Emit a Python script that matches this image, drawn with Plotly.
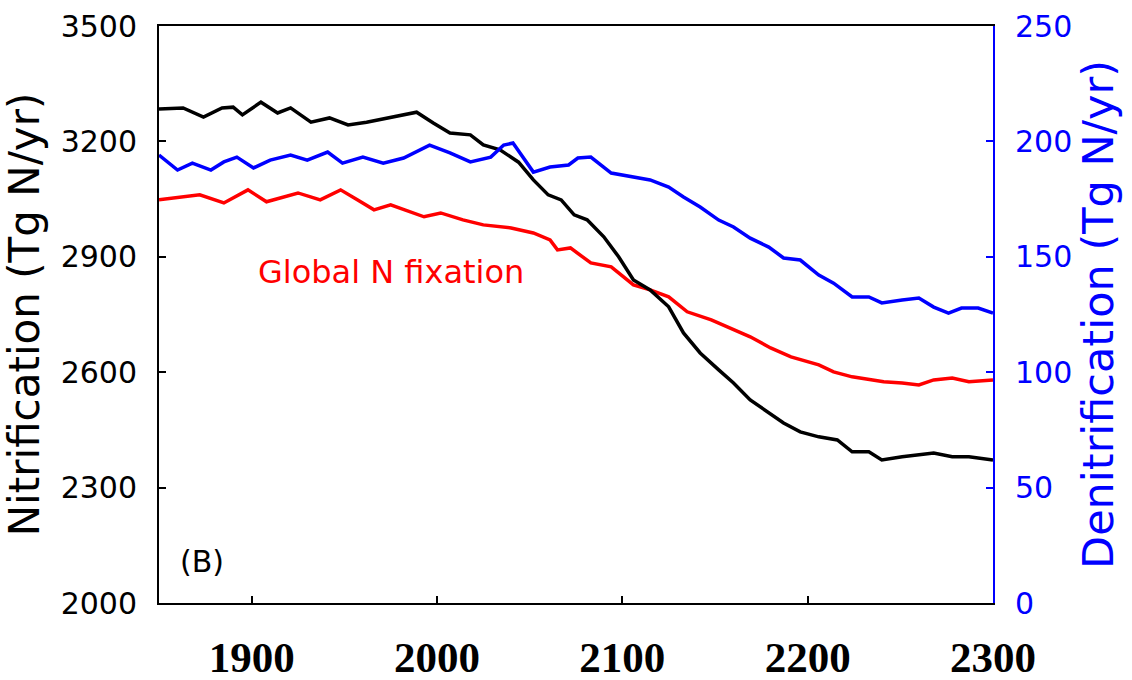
import plotly.graph_objects as go

# Nitrification (left axis, Tg N/yr)
years_nit = [1850, 1863, 1874, 1884, 1890, 1895, 1905, 1914, 1921, 1932, 1942, 1952, 1962, 1975,
             1989, 1998, 2007, 2018, 2025, 2034, 2044, 2052, 2060, 2067, 2074, 2081, 2090, 2098,
             2106, 2115, 2125, 2133, 2142, 2152, 2160, 2169, 2179, 2187, 2196, 2206, 2216, 2224,
             2233, 2240, 2251, 2260, 2268, 2278, 2287, 2300]
nitrification = [3284, 3287, 3263, 3287, 3289, 3269, 3302, 3274, 3287, 3250, 3261, 3243, 3250, 3263,
                 3276, 3248, 3222, 3217, 3191, 3178, 3146, 3100, 3061, 3048, 3009, 2996, 2952, 2900,
                 2840, 2814, 2770, 2702, 2650, 2606, 2572, 2528, 2494, 2468, 2445, 2432, 2424, 2393,
                 2393, 2372, 2380, 2385, 2390, 2380, 2380, 2372]

# Global N fixation (plotted against left axis scale)
years_fix = [1850, 1863, 1872, 1885, 1898, 1908, 1925, 1937, 1948, 1957, 1966, 1975, 1993, 2002,
             2014, 2025, 2040, 2052, 2061, 2065, 2072, 2083, 2094, 2106, 2115, 2125, 2135, 2148,
             2160, 2169, 2180, 2191, 2206, 2214, 2224, 2233, 2241, 2251, 2260, 2268, 2278, 2287, 2300]
n_fixation = [3048, 3056, 3061, 3040, 3074, 3043, 3066, 3048, 3074, 3048, 3022, 3035, 3004, 3014,
              2996, 2983, 2975, 2962, 2944, 2918, 2923, 2884, 2874, 2827, 2814, 2796, 2757, 2736,
              2710, 2692, 2663, 2640, 2619, 2601, 2588, 2580, 2575, 2572, 2567, 2580, 2585, 2575, 2580]

# Denitrification (right axis, Tg N/yr)
years_den = [1850, 1860, 1868, 1878, 1885, 1892, 1901, 1910, 1921, 1930, 1941, 1949, 1960, 1971,
             1982, 1996, 2007, 2018, 2029, 2036, 2041, 2052, 2061, 2071, 2076, 2083, 2094, 2106,
             2115, 2125, 2133, 2142, 2152, 2160, 2169, 2179, 2187, 2196, 2206, 2214, 2224, 2233,
             2240, 2251, 2260, 2268, 2276, 2283, 2292, 2300]
denitrification = [194.1, 187.6, 190.6, 187.6, 191.1, 193.2, 188.5, 191.9, 194.1, 191.9, 195.4, 190.6,
                   193.2, 190.6, 192.8, 198.4, 195.0, 191.1, 193.2, 198.4, 199.3, 186.7, 188.9, 189.8,
                   192.8, 193.2, 186.3, 184.6, 183.3, 180.2, 175.9, 171.6, 165.9, 162.9, 158.1, 154.2,
                   149.5, 148.6, 142.1, 138.6, 132.6, 132.6, 130.0, 131.3, 132.1, 128.2, 125.6, 127.8,
                   127.8, 125.6]

x_ticks = [1900, 2000, 2100, 2200, 2300]
left_ticks = [2000, 2300, 2600, 2900, 3200, 3500]
right_ticks = [0, 50, 100, 150, 200, 250]

fig = go.Figure()
fig.add_trace(go.Scatter(x=years_fix, y=n_fixation, mode="lines",
                         line=dict(color="#ff0000", width=3.5), name="Global N fixation"))
fig.add_trace(go.Scatter(x=years_nit, y=nitrification, mode="lines",
                         line=dict(color="#000000", width=3.5), name="Nitrification"))
fig.add_trace(go.Scatter(x=years_den, y=denitrification, mode="lines", yaxis="y2",
                         line=dict(color="#0000ff", width=3.5), name="Denitrification"))

fig.update_layout(
    width=1132, height=680,
    margin=dict(l=159, r=139, t=26, b=77, autoexpand=False),
    paper_bgcolor="white", plot_bgcolor="white",
    showlegend=False,
    xaxis=dict(range=[1850, 2300], tickvals=x_ticks, ticks="inside", ticklen=7, tickwidth=1.5,
               tickcolor="black", showline=True, linecolor="black", linewidth=2, mirror=True,
               showgrid=False, zeroline=False, automargin=False,
               tickfont=dict(family="Liberation Serif", size=43, color="black", weight="bold"),
               ticklabelstandoff=15),
    yaxis=dict(range=[2000, 3500], tickvals=left_ticks, ticks="inside", ticklen=7, tickwidth=1.5,
               tickcolor="black", showline=True, linecolor="black", linewidth=2,
               showgrid=False, zeroline=False, automargin=False,
               tickfont=dict(family="DejaVu Sans", size=30, color="black"),
               ticklabelstandoff=14,
               title=dict(text="Nitrification (Tg N/yr)",
                          font=dict(family="DejaVu Sans", size=42, color="black"), standoff=12)),
    yaxis2=dict(range=[0, 250], tickvals=right_ticks, overlaying="y", side="right",
                ticks="inside", ticklen=7, tickwidth=1.5, tickcolor="#0000ff",
                showline=True, linecolor="#0000ff", linewidth=2,
                showgrid=False, zeroline=False, automargin=False,
                tickfont=dict(family="DejaVu Sans", size=30, color="#0000ff"),
                ticklabelstandoff=14,
                title=dict(text="Denitrification (Tg N/yr)",
                           font=dict(family="DejaVu Sans", size=43, color="#0000ff"), standoff=12)),
    annotations=[
        dict(x=1975, y=2860, xref="x", yref="y", text="Global N fixation", showarrow=False,
             font=dict(family="DejaVu Sans", size=32, color="#ff0000")),
        dict(x=1873, y=2107, xref="x", yref="y", text="(B)", showarrow=False,
             font=dict(family="DejaVu Sans", size=30, color="black")),
    ],
)

fig.write_html("out.html")
